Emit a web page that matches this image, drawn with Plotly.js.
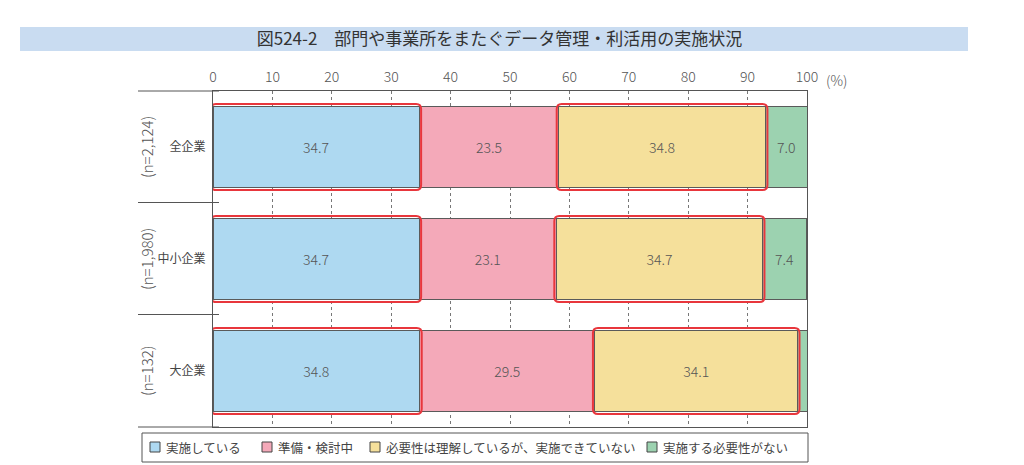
<!DOCTYPE html>
<html>
<head>
<meta charset="utf-8">
<script src="https://cdn.plot.ly/plotly-3.0.1.min.js"></script>
<style>
  html, body { margin: 0; padding: 0; background: #fff; }
  #chart { width: 1024px; height: 465px; }
</style>
</head>
<body>
<div id="chart"></div>
<script>
// ---- data ----
const chartTitle = "図524-2　部門や事業所をまたぐデータ管理・利活用の実施状況";
const categories = ["全企業", "中小企業", "大企業"];
const sampleSizes = ["(n=2,124)", "(n=1,980)", "(n=132)"];
const seriesNames = ["実施している", "準備・検討中", "必要性は理解しているが、実施できていない", "実施する必要性がない"];
const implemented = [34.7, 34.7, 34.8];
const preparing = [23.5, 23.1, 29.5];
const understoodNotDone = [34.8, 34.7, 34.1];
const notNeeded = [7.0, 7.4, 1.6];
const tickValues = [0, 10, 20, 30, 40, 50, 60, 70, 80, 90, 100];
const tickLabels = ["0", "10", "20", "30", "40", "50", "60", "70", "80", "90", "100"];
const highlightedSeries = [0, 2];

// ---- style ----
const colors = ["#aed9f1", "#f4a9b9", "#f5e09b", "#9cd2b0"];
const FONT = "'Noto Sans CJK JP', 'Noto Sans', sans-serif";
const W = 1024, H = 465;
const M = { l: 213, r: 217, t: 91, b: 38 };
const plotW = W - M.l - M.r, plotH = H - M.t - M.b;
const BAR_W = 0.732;

const seriesValues = [implemented, preparing, understoodNotDone, notNeeded];
const yIdx = categories.map((c, i) => i);

const traces = seriesValues.map((vals, s) => ({
  type: "bar",
  orientation: "h",
  name: seriesNames[s],
  y: yIdx,
  x: vals,
  width: BAR_W,
  marker: { color: colors[s], line: { color: "#5a5a5a", width: 1 } },
  texttemplate: "%{x:.1f}",
  textposition: "inside",
  insidetextanchor: "middle",
  textfont: { family: FONT, size: 14, color: "#555", weight: 300 },
  hoverinfo: "x+name",
  showlegend: false
}));

// px -> paper helpers
const px = v => (v - M.l) / plotW;
const py = v => (H - M.b - v) / plotH;

const shapes = [];
// title band
shapes.push({ type: "rect", xref: "paper", yref: "paper", x0: px(20), x1: px(968), y0: py(51), y1: py(27),
  fillcolor: "#c9dcf1", line: { width: 0 }, layer: "below" });
// left separators
[91, 202.5, 314.5, 427].forEach(yy => shapes.push({ type: "line", xref: "paper", yref: "paper",
  x0: px(138), x1: px(219), y0: py(yy), y1: py(yy), line: { color: "#555", width: 1 } }));
// red rounded highlight rectangles
const xu = plotW / 100, yu = plotH / categories.length;
const padX = 2 / xu, padY = 2 / yu, rX = 5 / xu, rY = 5 / yu;
categories.forEach((c, i) => {
  highlightedSeries.forEach(s => {
    let start = 0;
    for (let k = 0; k < s; k++) start += seriesValues[k][i];
    const end = start + seriesValues[s][i];
    const x0 = start - padX, x1 = end + padX;
    const y0 = i - BAR_W / 2 - padY, y1 = i + BAR_W / 2 + padY;
    const path = `M ${x0 + rX},${y0} L ${x1 - rX},${y0} Q ${x1},${y0} ${x1},${y0 + rY} ` +
      `L ${x1},${y1 - rY} Q ${x1},${y1} ${x1 - rX},${y1} L ${x0 + rX},${y1} ` +
      `Q ${x0},${y1} ${x0},${y1 - rY} L ${x0},${y0 + rY} Q ${x0},${y0} ${x0 + rX},${y0} Z`;
    shapes.push({ type: "path", xref: "x", yref: "y", path: path, line: { color: "#e8363c", width: 2 }, layer: "above" });
  });
});
// legend box
shapes.push({ type: "rect", xref: "paper", yref: "paper", x0: px(142), x1: px(808), y0: py(462), y1: py(433),
  line: { color: "#555", width: 1 }, fillcolor: "rgba(0,0,0,0)" });

const annotations = [];
// n labels rotated
categories.forEach((c, i) => annotations.push({
  xref: "paper", yref: "y", x: px(146), y: i, text: sampleSizes[i], textangle: -90,
  showarrow: false, font: { family: FONT, size: 15, color: "#555", weight: 300 }, xanchor: "center", yanchor: "middle"
}));
// (%) unit
annotations.push({ xref: "x", yref: "paper", x: 100, y: 1, xanchor: "left", yanchor: "middle",
  xshift: 17, yshift: 11, text: "(%)", showarrow: false, font: { family: FONT, size: 14, color: "#555", weight: 300 } });
// manual legend
const legendX = [150, 262, 370, 647];
seriesNames.forEach((n, s) => {
  shapes.push({ type: "rect", xref: "paper", yref: "paper", x0: px(legendX[s]), x1: px(legendX[s] + 10),
    y0: py(452), y1: py(442), fillcolor: colors[s], line: { color: "#444", width: 1 } });
  annotations.push({ xref: "paper", yref: "paper", x: px(legendX[s] + 14), y: py(447), xanchor: "left", yanchor: "middle",
    text: n, showarrow: false, font: { family: FONT, size: 12.5, color: "#444" } });
});

const layout = {
  width: W, height: H,
  margin: M,
  paper_bgcolor: "#fff", plot_bgcolor: "#fff",
  barmode: "stack",
  bargap: 0,
  showlegend: false,
  uniformtext: { mode: "hide", minsize: 12 },
  title: { text: chartTitle, x: 494 / W, xanchor: "center", xref: "paper", yref: "container", y: 1 - 39 / H, yanchor: "middle",
    font: { family: FONT, size: 17, color: "#333" } },
  xaxis: {
    side: "top", range: [0, 100], tickvals: tickValues, ticktext: tickLabels,
    showgrid: true, gridcolor: "#777", gridwidth: 1, griddash: "3px,3px",
    zeroline: false, showline: true, linecolor: "#555", linewidth: 1, mirror: true,
    ticks: "", ticklabelstandoff: 2,
    tickfont: { family: FONT, size: 14, color: "#555", weight: 300 }, fixedrange: true
  },
  yaxis: {
    range: [categories.length - 0.5, -0.5], tickvals: yIdx, ticktext: categories,
    showgrid: false, zeroline: false, showline: true, linecolor: "#555", linewidth: 1, mirror: true,
    ticks: "", ticklabelstandoff: 4,
    tickfont: { family: FONT, size: 12, color: "#444" }, fixedrange: true
  },
  shapes: shapes,
  annotations: annotations
};

Plotly.newPlot("chart", traces, layout, { displayModeBar: false, staticPlot: true });
</script>
</body>
</html>
